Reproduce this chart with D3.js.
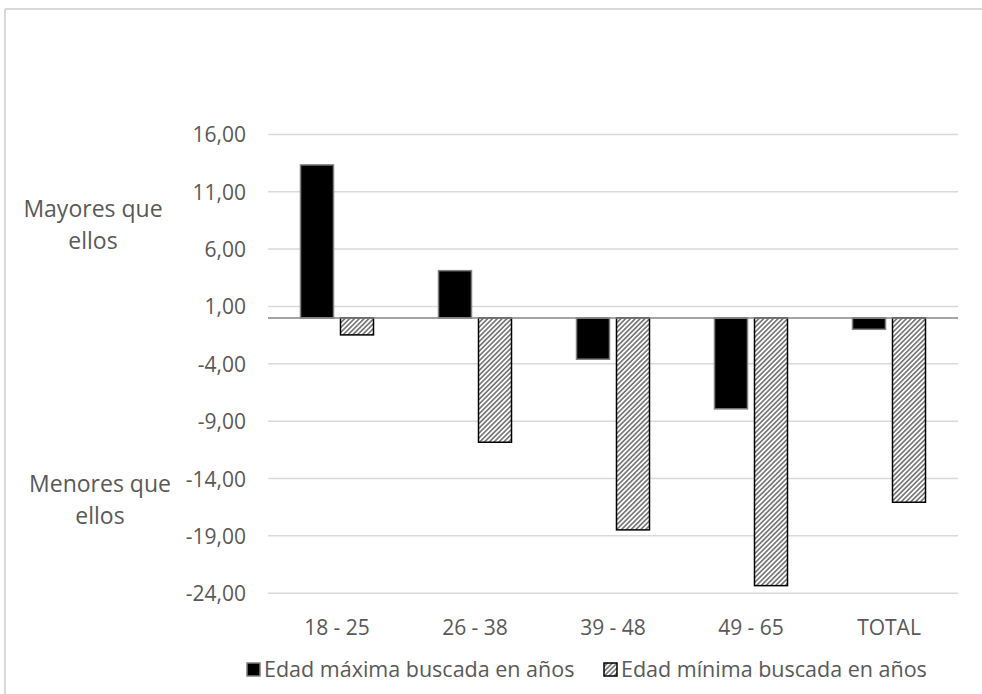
<!DOCTYPE html>
<html>
<head>
<meta charset="utf-8">
<script src="https://cdn.jsdelivr.net/npm/d3@7/dist/d3.min.js"></script>
<style>
  html, body { margin: 0; padding: 0; background: #ffffff; }
  svg { display: block; }
  text { font-family: "Open Sans", "Liberation Sans", sans-serif; fill: #595959; }
</style>
</head>
<body>
<svg id="chart" width="982" height="694"></svg>
<script>
// Age groups on the x axis
const categories = ["18 - 25", "26 - 38", "39 - 48", "49 - 65", "TOTAL"];
// Series names (legend)
const seriesNames = ["Edad máxima buscada en años", "Edad mínima buscada en años"];
// Difference in years for each series, per age group
const edadMaxima = [13.34, 4.12, -3.60, -7.93, -0.99];
const edadMinima = [-1.48, -10.84, -18.48, -23.34, -16.07];
// Y axis ticks
const yTicks = [16, 11, 6, 1, -4, -9, -14, -19, -24];

const svg = d3.select("#chart");
const W = 982, H = 694;

// outer frame (top and left edges)
svg.append("line").attr("x1", 5).attr("x2", W).attr("y1", 9).attr("y2", 9)
  .attr("stroke", "#d9d9d9").attr("stroke-width", 2);
svg.append("line").attr("x1", 5).attr("x2", 5).attr("y1", 9).attr("y2", H)
  .attr("stroke", "#d9d9d9").attr("stroke-width", 2);

// hatch pattern for the second series
const defs = svg.append("defs");
const pat = defs.append("pattern")
  .attr("id", "hatch")
  .attr("patternUnits", "userSpaceOnUse")
  .attr("width", 3.4).attr("height", 10)
  .attr("patternTransform", "rotate(45)");
pat.append("rect").attr("width", 3.4).attr("height", 10).attr("fill", "#ffffff");
pat.append("rect").attr("width", 1.7).attr("height", 10).attr("fill", "#7a7a7a");

const plotLeft = 268, plotRight = 958;
const y = d3.scaleLinear().domain([16, -24]).range([134.4, 593.2]);
const x = d3.scaleBand().domain(categories).range([plotLeft, plotRight]).paddingInner(0).paddingOuter(0);
const bandW = x.bandwidth();
const groupW = 73;
const xs = d3.scaleBand().domain(seriesNames)
  .range([(bandW - groupW) / 2, (bandW + groupW) / 2]).paddingInner(0.175);

// number format with comma decimals and a plain hyphen for negatives
const fmt = d => d3.format(".2f")(d).replace(".", ",").replace("\u2212", "-");

// gridlines
svg.append("g").selectAll("line").data(yTicks).join("line")
  .attr("x1", plotLeft).attr("x2", plotRight)
  .attr("y1", d => y(d)).attr("y2", d => y(d))
  .attr("stroke", "#d9d9d9").attr("stroke-width", 1.5);

// y tick labels
svg.append("g").selectAll("text").data(yTicks).join("text")
  .attr("x", 246).attr("y", d => y(d) + 8)
  .attr("text-anchor", "end")
  .attr("font-size", 21)
  .text(fmt);

// side annotations
const notes = [
  { lines: ["Mayores que", "ellos"], cx: 93, y0: 217 },
  { lines: ["Menores que", "ellos"], cx: 100, y0: 492 }
];
notes.forEach(n => {
  n.lines.forEach((t, i) => {
    svg.append("text").attr("x", n.cx).attr("y", n.y0 + i * 31.5)
      .attr("text-anchor", "middle").attr("font-size", 23).text(t);
  });
});

// bars
const data = categories.map((c, i) => ({ cat: c, vals: [edadMaxima[i], edadMinima[i]] }));
const groups = svg.append("g").selectAll("g").data(data).join("g")
  .attr("transform", d => `translate(${x(d.cat)},0)`);

groups.selectAll("rect").data(d => d.vals.map((v, j) => ({ v, s: seriesNames[j], j }))).join("rect")
  .attr("x", d => xs(d.s))
  .attr("width", xs.bandwidth())
  .attr("y", d => Math.min(y(d.v), y(0)))
  .attr("height", d => Math.abs(y(d.v) - y(0)))
  .attr("fill", d => d.j === 0 ? "#000000" : "url(#hatch)")
  .attr("stroke", d => d.j === 0 ? "#7f7f7f" : "#000000")
  .attr("stroke-width", 1.5);

// zero axis line
svg.append("line").attr("x1", plotLeft).attr("x2", plotRight)
  .attr("y1", y(0)).attr("y2", y(0))
  .attr("stroke", "#868686").attr("stroke-width", 1.5);

// category labels
svg.append("g").selectAll("text").data(categories).join("text")
  .attr("x", d => x(d) + bandW / 2).attr("y", 635)
  .attr("text-anchor", "middle").attr("font-size", 21)
  .text(d => d);

// legend
const legendItems = [
  { name: seriesNames[0], x: 247, fill: "#000000", stroke: "#7f7f7f" },
  { name: seriesNames[1], x: 604, fill: "url(#hatch)", stroke: "#000000" }
];
legendItems.forEach(l => {
  svg.append("rect").attr("x", l.x).attr("y", 663).attr("width", 13).attr("height", 13)
    .attr("fill", l.fill).attr("stroke", l.stroke).attr("stroke-width", 1.5);
  svg.append("text").attr("x", l.x + 17).attr("y", 677)
    .attr("font-size", 21.5).text(l.name);
});
</script>
</body>
</html>
